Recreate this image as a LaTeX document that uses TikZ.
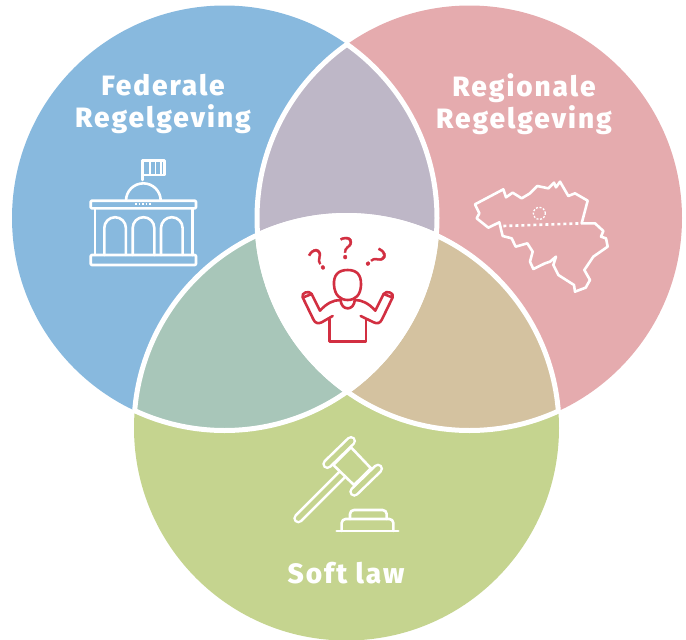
\documentclass[tikz,border=0pt]{standalone}
\usepackage{fontspec}
\setmainfont{Fira Sans ExtraBold}[LetterSpace=7]
\newfontfamily\markfont{Open Sans}[FakeBold=1.2]
\definecolor{federal}{HTML}{88B9DE}
\definecolor{regional}{HTML}{E5ABAE}
\definecolor{soft}{HTML}{C5D48F}
\definecolor{fedreg}{HTML}{BEB7C7}
\definecolor{fedsoft}{HTML}{A8C6B9}
\definecolor{regsoft}{HTML}{D4C2A0}
\definecolor{puzzled}{HTML}{D22F41}
\begin{document}
\begin{tikzpicture}[
            x=1pt, y=-1pt,
            title/.style={text=white, font=\fontsize{28}{32}\selectfont, align=center},
            icon/.style={draw=white, line width=2.6pt, line join=round, line cap=round},
            person/.style={draw=puzzled, line width=2.6pt, line join=round, line cap=round},
            askmark/.style={text=puzzled, font=\markfont\fontsize{30}{30}\selectfont, inner sep=0pt},
            gavelbar/.style={icon, double=soft, double distance=5pt}
        ]
            \useasboundingbox (0,0) rectangle (686,640);
            \coordinate (fed) at (224.5,218);
            \coordinate (reg) at (469.5,218);
            \coordinate (sof) at (346.5,428);
            % the three discs
            \fill[federal] (fed) circle (212.5pt);
            \fill[regional] (reg) circle (212.5pt);
            \fill[soft] (sof) circle (212.5pt);
            % the overlaps
            \begin{scope}
                \clip (fed) circle (212.5pt);
                \fill[fedreg] (reg) circle (212.5pt);
            \end{scope}
            \begin{scope}
                \clip (fed) circle (212.5pt);
                \fill[fedsoft] (sof) circle (212.5pt);
            \end{scope}
            \begin{scope}
                \clip (reg) circle (212.5pt);
                \fill[regsoft] (sof) circle (212.5pt);
            \end{scope}
            \begin{scope}
                \clip (fed) circle (212.5pt);
                \clip (reg) circle (212.5pt);
                \fill[white] (sof) circle (212.5pt);
            \end{scope}
            % white rims, only where a disc lies over another one
            \foreach \c/\d in {fed/reg,fed/sof,reg/fed,reg/sof,sof/fed,sof/reg} {
                \begin{scope}
                    \clip (\d) circle (214.5pt);
                    \draw[white, line width=5pt] (\c) circle (212.5pt);
                \end{scope}
            }
            \node[title] (fedtitle) at (163,104) {Federale\\Regelgeving};
            \node[title] (regtitle) at (524,104) {Regionale\\Regelgeving};
            \node[title] (softtitle) at (346,573) {Soft law};
            % building
            \draw[icon] (142.7,180) -- (142.7,160.7) -- (164.3,160.7) -- (164.3,175) -- (142.7,175);
            \foreach \x in {150,155.5,161} {
                \draw[icon, line width=1.8pt] (\x,162) -- (\x,174);
            }
            \draw[icon] (126,200.7) arc (180:0:17.35pt);
            \draw[icon, rounded corners=1pt] (90.7,200.7) rectangle (196,208.3);
            \draw[icon, line width=1.5pt, dotted, line cap=butt] (135,204) -- (152,204);
            \draw[icon] (95,208.3) -- (95,255);
            \draw[icon] (192.7,208.3) -- (192.7,255);
            \foreach \x in {104.3,132.7,161} {
                \draw[icon] (\x,255) -- (\x,228) arc (180:0:10.8pt) -- (\x+21.6,255);
            }
            \draw[icon, rounded corners=1pt] (90.7,255) rectangle (196,265);
            % map
            \begin{scope}[shift={(420,60)}, x=1pt/3, y=-1pt/3]
                \draw[icon] (165,433) -- (250,388) -- (258,412) -- (278,398) -- (305,415) -- (330,400)
                    -- (352,378) -- (385,385) -- (402,368) -- (408,382) -- (420,365) -- (445,408)
                    -- (465,400) -- (503,422) -- (485,490) -- (525,490) -- (550,513) -- (543,530)
                    -- (558,535) -- (563,560) -- (520,590) -- (493,630) -- (510,660) -- (497,683)
                    -- (465,695) -- (462,675) -- (415,645) -- (400,615) -- (408,590) -- (390,605)
                    -- (375,610) -- (340,627) -- (330,605) -- (338,575) -- (322,550) -- (287,560)
                    -- (275,535) -- (248,528) -- (238,487) -- (205,503) -- (170,475) -- (178,460) -- cycle;
                \draw[icon, dash pattern=on 3pt off 3pt, line cap=butt] (250,498) -- (485,490);
                \draw[icon, line width=1.3pt, dash pattern=on 2pt off 1.6pt, line cap=butt] (358,460) circle (6pt);
            \end{scope}
            % person
            \begin{scope}[shift={(280,220)}, x=1pt/3, y=-1pt/3]
                \draw[person] (203,150) .. controls (175,150) and (160,165) .. (162,195)
                    .. controls (164,225) and (180,240) .. (203,240)
                    .. controls (226,240) and (242,225) .. (243,195)
                    .. controls (244,165) and (231,150) .. (203,150) -- cycle;
                \draw[person] (181,238) .. controls (183,258) and (193,265) .. (203,265)
                    .. controls (213,265) and (223,258) .. (225,238);
                \draw[person] (181,240) .. controls (160,240) and (140,250) .. (120,272)
                    -- (95,222) .. controls (88,210) and (62,218) .. (68,232)
                    -- (100,298) .. controls (105,310) and (115,312) .. (125,307) -- (158,288);
                \draw[person] (225,240) .. controls (246,240) and (266,250) .. (286,272)
                    -- (311,222) .. controls (318,210) and (344,218) .. (338,232)
                    -- (306,298) .. controls (301,310) and (291,312) .. (281,307) -- (242,288);
                \draw[person] (70,232) -- (95,222);
                \draw[person] (336,232) -- (311,222);
                \draw[person] (148,298) -- (148,365) -- (258,365) -- (258,298);
                \node[askmark, rotate=35] (askleft) at (116,118) {?};
                \node[askmark] (askmid) at (199,84) {?};
                \node[askmark, rotate=-50] (askright) at (287,116) {?};
            \end{scope}
            % gavel
            \begin{scope}[shift={(270,420)}, x=1pt/3, y=-1pt/3]
                \draw[gavelbar] (85,295) -- (215,165);
                \draw[icon, fill=soft] (190,135) -- (243,82) -- (303,145) -- (252,195) -- cycle;
                \draw[gavelbar] (172,132) -- (243,63);
                \draw[gavelbar] (253,215) -- (324,146);
                \draw[icon, rounded corners=4pt] (240,297) -- (240,270) -- (350,270) -- (350,297);
                \draw[icon, rounded corners=4pt] (215,333) -- (215,297) -- (370,297) -- (370,333);
                \draw[icon] (200,333) -- (385,333);
            \end{scope}
        \end{tikzpicture}
\end{document}
